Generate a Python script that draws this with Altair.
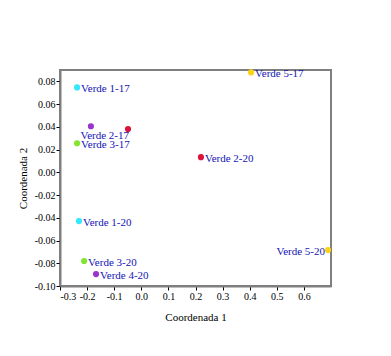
import altair as alt
import pandas as pd

names = ["Verde 1-17", "Verde 2-17", "Verde 3-17", "Verde 4-17", "Verde 5-17",
         "Verde 1-20", "Verde 2-20", "Verde 3-20", "Verde 4-20", "Verde 5-20"]
groups = ["Verde 1", "Verde 2", "Verde 3", "Verde 4", "Verde 5",
          "Verde 1", "Verde 2", "Verde 3", "Verde 4", "Verde 5"]
coord1 = [-0.237, -0.049, -0.237, -0.186, 0.405, -0.230, 0.220, -0.211, -0.167, 0.689]
coord2 = [0.0747, 0.038, 0.0256, 0.0405, 0.0879, -0.0429, 0.0133, -0.078, -0.0895, -0.0684]
show_label = [True, True, True, False, True, True, True, True, True, True]

group_names = ["Verde 1", "Verde 2", "Verde 3", "Verde 4", "Verde 5"]
group_colors = ["#33E8FF", "#DC143C", "#80E632", "#9933CC", "#FFD21A"]

x_ticks = [-0.3, -0.2, -0.1, 0.0, 0.1, 0.2, 0.3, 0.4, 0.5, 0.6]
y_ticks = [-0.10, -0.08, -0.06, -0.04, -0.02, 0.0, 0.02, 0.04, 0.06, 0.08]

df = pd.DataFrame({"name": names, "group": groups, "c1": coord1, "c2": coord2,
                   "show": show_label})

FONT = "'Liberation Serif', 'Times New Roman', Times, serif"

x = alt.X("c1:Q", title="Coordenada 1",
          scale=alt.Scale(domain=[-0.3, 0.7], nice=False, zero=False),
          axis=alt.Axis(values=x_ticks, grid=False,
                        labelExpr="replace(format(datum.value, '.1f'), '\u2212', '-')"))
y = alt.Y("c2:Q", title="Coordenada 2",
          scale=alt.Scale(domain=[-0.10, 0.09], nice=False, zero=False),
          axis=alt.Axis(values=y_ticks, grid=False,
                        labelExpr="replace(format(datum.value, '.2f'), '\u2212', '-')"))

base = alt.Chart(df)

points = base.mark_circle(size=38, opacity=1).encode(
    x=x, y=y,
    color=alt.Color("group:N", scale=alt.Scale(domain=group_names, range=group_colors),
                    legend=None),
)

txt_style = dict(font=FONT, fontSize=11, color="#1414B4", baseline="middle")

labels_right = base.transform_filter(
    "datum.show && datum.name != 'Verde 2-17' && datum.name != 'Verde 5-20'"
).mark_text(align="left", dx=4, dy=2, **txt_style).encode(x=x, y=y, text="name:N")

label_2_17 = base.transform_filter("datum.name == 'Verde 2-17'").mark_text(
    align="right", dx=1, dy=7, **txt_style).encode(x=x, y=y, text="name:N")

label_5_20 = base.transform_filter("datum.name == 'Verde 5-20'").mark_text(
    align="right", dx=-3, dy=2, **txt_style).encode(x=x, y=y, text="name:N")

chart = alt.layer(points, labels_right, label_2_17, label_5_20).properties(
    width=271, height=216,
    autosize=alt.AutoSizeParams(type="none"),
    padding={"left": 60, "top": 70, "right": 60, "bottom": 70},
    background="white",
).configure_view(
    stroke="#7F7F7F", strokeWidth=2
).configure_axis(
    labelFont=FONT, titleFont=FONT, labelFontSize=10, titleFontSize=11,
    titleFontWeight="normal", labelColor="black", titleColor="black",
    tickColor="black", tickSize=4, domainColor="#7F7F7F", domainWidth=2,
    labelPadding=1,
).configure_axisX(titlePadding=10).configure_axisY(titlePadding=6)

chart.save("out.html", embed_options={"renderer": "svg", "actions": False})
